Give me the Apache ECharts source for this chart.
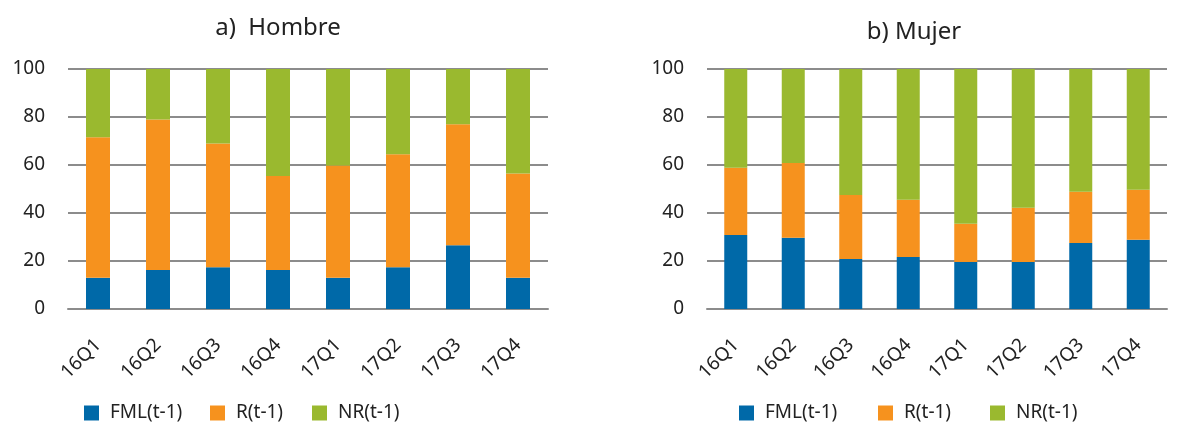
<!DOCTYPE html>
<html>
<head>
<meta charset="utf-8">
<script src="https://cdn.jsdelivr.net/npm/echarts@6/dist/echarts.min.js"></script>
<style>html,body{margin:0;padding:0;background:#fff;}#c{width:1184px;height:423px;}</style>
</head>
<body>
<div id="c"></div>
<script>
const categories = ['16Q1','16Q2','16Q3','16Q4','17Q1','17Q2','17Q3','17Q4'];
const seriesNames = ['FML(t-1)','R(t-1)','NR(t-1)'];
const yTicks = [0, 20, 40, 60, 80, 100];
const titleA = 'a)  Hombre';
const titleB = 'b) Mujer';
// Hombre
const hombreFML = [13.0, 16.3, 17.4, 16.3, 13.0, 17.4, 26.6, 13.0];
const hombreR   = [58.6, 62.7, 51.6, 39.1, 46.8, 47.1, 50.4, 43.5];
const hombreNR  = [28.4, 21.0, 31.0, 44.6, 40.2, 35.5, 23.0, 43.5];
// Mujer
const mujerFML = [30.8, 29.7, 20.8, 21.7, 19.6, 19.6, 27.5, 28.9];
const mujerR   = [28.1, 31.1, 26.7, 23.8, 15.9, 22.6, 21.4, 20.8];
const mujerNR  = [41.1, 39.2, 52.5, 54.5, 64.5, 57.8, 51.1, 50.3];

const colors = ['#0069a8', '#f6921e', '#9ab92f'];
const font = 'Noto Sans';
const gridColor = '#8c8c8c';

function xAxis(gi) {
  return {
    type: 'category', gridIndex: gi, data: categories,
    axisLine: { show: true, lineStyle: { color: gridColor, width: 2 } },
    axisTick: { show: false },
    axisLabel: { rotate: 45, fontFamily: font, fontSize: 19, color: '#222', margin: 33 }
  };
}
function yAxis(gi) {
  return {
    type: 'value', gridIndex: gi, min: 0, max: 100, interval: 20,
    axisLine: { show: false }, axisTick: { show: false },
    splitLine: { lineStyle: { color: gridColor, width: 2 } },
    axisLabel: { fontFamily: font, fontSize: 19, color: '#222', margin: 23,
      formatter: v => yTicks.includes(v) ? String(v) : '' }
  };
}
function bars(gi, arrs, bw) {
  return arrs.map((d, i) => ({
    name: seriesNames[i], type: 'bar', stack: 's' + gi, xAxisIndex: gi, yAxisIndex: gi,
    data: d, barWidth: bw, itemStyle: { color: colors[i] }
  }));
}
function legendItem(name, left) {
  return {
    data: [name], left: left, top: 403, padding: 0, itemWidth: 15, itemHeight: 15, icon: 'rect',
    textStyle: { fontFamily: font, fontSize: 19, lineHeight: 20, color: '#222', padding: [0, 0, 0, 6] },
    selectedMode: false
  };
}

const chart = echarts.init(document.getElementById('c'), null, { renderer: 'canvas' });
chart.setOption({
  animation: false,
  color: colors,
  title: [
    { text: titleA, left: 273, top: 11, textAlign: 'center',
      textStyle: { fontFamily: font, fontSize: 24, fontWeight: 'normal', color: '#222' } },
    { text: titleB, left: 909, top: 15, textAlign: 'center',
      textStyle: { fontFamily: font, fontSize: 24, fontWeight: 'normal', color: '#222' } }
  ],
  grid: [
    { left: 68, top: 69, width: 480, height: 240 },
    { left: 707, top: 69, width: 460, height: 240 }
  ],
  xAxis: [xAxis(0), xAxis(1)],
  yAxis: [yAxis(0), yAxis(1)],
  legend: [
    legendItem(seriesNames[0], 84), legendItem(seriesNames[1], 210), legendItem(seriesNames[2], 312),
    legendItem(seriesNames[0], 739), legendItem(seriesNames[1], 878), legendItem(seriesNames[2], 990)
  ],
  series: [
    ...bars(0, [hombreFML, hombreR, hombreNR], 24),
    ...bars(1, [mujerFML, mujerR, mujerNR], 23)
  ]
});
</script>
</body>
</html>
